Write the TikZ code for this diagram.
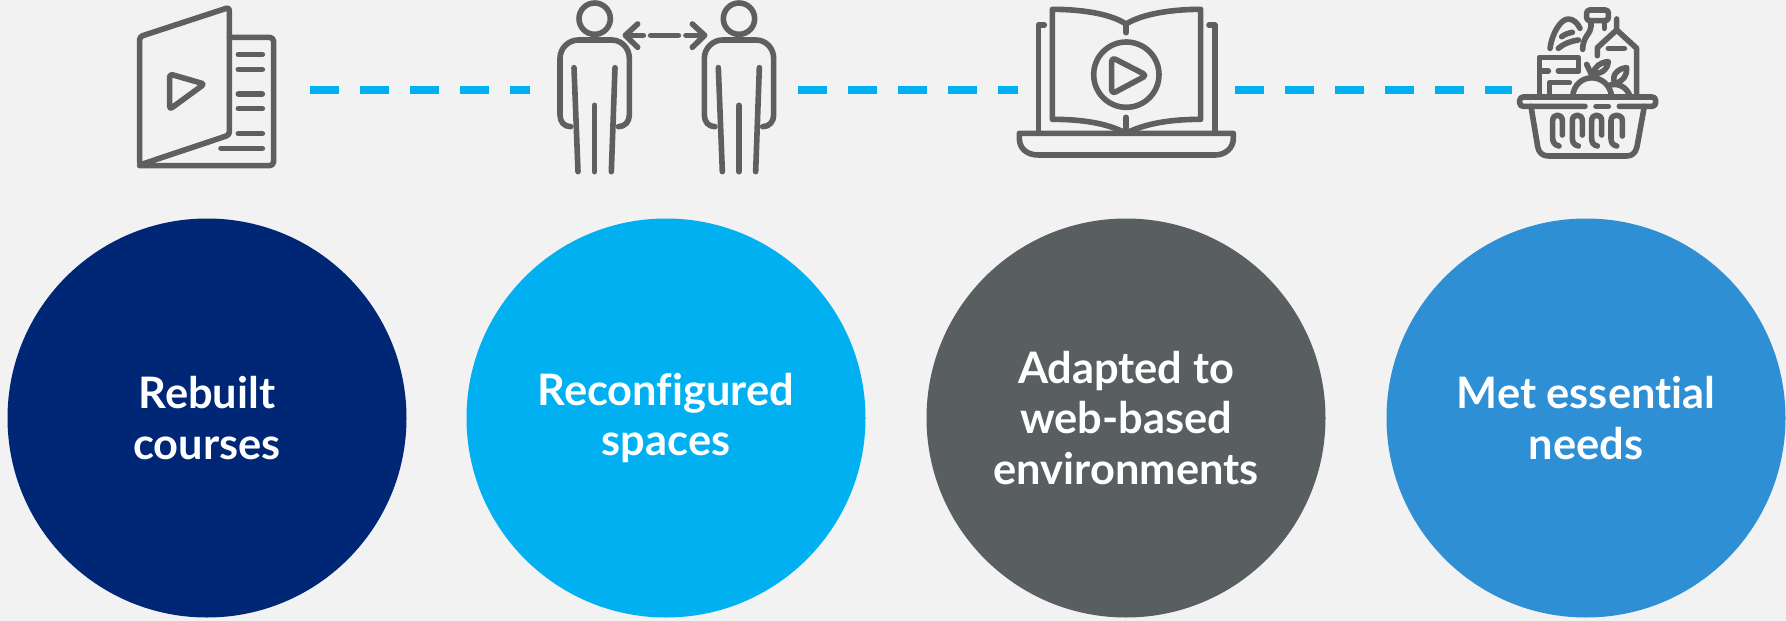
\documentclass[tikz,border=0pt]{standalone}
\usepackage{fontspec}
\setmainfont{Lato}[BoldFont=* Bold,Ligatures=CommonOff]
\definecolor{bgc}{HTML}{F2F2F2}
\definecolor{ink}{HTML}{5F5F5F}
\definecolor{cnavy}{HTML}{002776}
\definecolor{csky}{HTML}{00B0F0}
\definecolor{cgrey}{HTML}{595E60}
\definecolor{cblue}{HTML}{2E8FD4}
\tikzset{
  ic/.style={draw=ink,line width=5.6pt,line cap=round,line join=round},
  dashline/.style={draw=csky,line width=7.6pt,dash pattern=on 29pt off 21pt},
  disc/.style={circle,minimum size=399pt,inner sep=0pt,text=white,align=center,font=\fontsize{43.4}{50.5}\selectfont\bfseries}
}
\begin{document}
\begin{tikzpicture}[x=1pt,y=-1pt]
\path[use as bounding box,fill=bgc] (0,0) rectangle (1786,621);
\node[disc,fill=cnavy] (d1) at (207,418) {Rebuilt\\courses};
\node[disc,fill=csky] (d2) at (666,418) {Reconfigured\\spaces};
\node[disc,fill=cgrey] (d3) at (1126,418) {Adapted to\\web-based\\environments};
\node[disc,fill=cblue] (d4) at (1586,418) {Met essential\\needs};
\coordinate (a1) at (310,90); \coordinate (a2) at (530,90);
\coordinate (b1) at (798,90); \coordinate (b2) at (1018,90);
\coordinate (c1) at (1235,90); \coordinate (c2) at (1512,90);
\draw[dashline] (a1)--(a2); \draw[dashline] (b1)--(b2); \draw[dashline] (c1)--(c2);
% icon 1
\begin{scope}[shift={(125,0)},scale=1/3]
\draw[ic,rounded corners=3pt] (44,110)--(313,22)--(313,405)--(44,495)--cycle;
\draw[ic,rounded corners=4pt] (313,112)--(446,112)--(446,497)--(44,497);
\foreach \y in {164,208,282,326,401} \draw[ic] (340,\y)--(412,\y);
\draw[ic] (288,445)--(412,445);
\draw[ic,rounded corners=3pt] (134,222)--(238,252)--(134,328)--cycle;
\end{scope}
% icon 2
\begin{scope}[shift={(550,0)},scale=1/3]
\foreach \d in {0,433}{
\draw[ic] (134+\d,56) circle (47);
\draw[ic] (62+\d,380) .. controls (42+\d,380) and (30+\d,365) .. (30+\d,345) -- (30+\d,175) .. controls (30+\d,145) and (55+\d,120) .. (85+\d,120) -- (185+\d,120) .. controls (215+\d,120) and (238+\d,145) .. (238+\d,175) -- (238+\d,345) .. controls (238+\d,365) and (225+\d,380) .. (205+\d,380);
\draw[ic] (72+\d,203)--(84+\d,515);
\draw[ic] (134+\d,316)--(134+\d,515);
\draw[ic] (195+\d,203)--(184+\d,515);
}
\draw[ic] (280,106)--(228,106);
\draw[ic] (263,72)--(226,106)--(263,142);
\draw[ic] (302,106)--(385,106);
\draw[ic] (408,106)--(462,106);
\draw[ic] (427,72)--(464,106)--(427,142);
\end{scope}
% icon 3
\begin{scope}[shift={(1010,0)},scale=1/3]
\draw[ic] (28,400)--(670,400)--(670,415) .. controls (670,445) and (645,465) .. (615,465)--(85,465) .. controls (50,465) and (28,445) .. (28,415)--cycle;
\draw[ic] (103,75)--(85,75)--(85,400);
\draw[ic] (597,75)--(615,75)--(615,400);
\draw[ic] (348,72) .. controls (300,40) and (210,28) .. (127,28)--(127,358) .. controls (210,358) and (290,368) .. (348,400) .. controls (410,368) and (490,358) .. (572,358)--(572,28) .. controls (490,28) and (400,40) .. (348,72);
\draw[ic] (348,72)--(348,98);
\draw[ic] (348,352)--(348,398);
\draw[ic] (349,224) circle (98);
\draw[ic,rounded corners=4pt] (305,172)--(410,226)--(305,282)--cycle;
\end{scope}
% icon 4
\begin{scope}[shift={(1510,0)},scale=1/3]
\draw[ic,rounded corners=3.5pt] (225,319)--(29,319)--(29,291)--(437,291)--(437,319)--(328,319);
\draw[ic] (258,319)--(295,319);
\draw[ic] (63,319)--(83,440) .. controls (86,458) and (98,468) .. (115,468)--(350,468) .. controls (367,468) and (377,458) .. (381,440)--(403,319);
\draw[ic] (147,438) .. controls (135,435) and (128,428) .. (128,415)--(128,362) .. controls (128,340) and (157,340) .. (157,362)--(157,405);
\draw[ic] (205,438) .. controls (193,435) and (187,428) .. (187,415)--(187,362) .. controls (187,340) and (217,340) .. (217,362)--(217,405);
\draw[ic] (262,438) .. controls (250,435) and (245,428) .. (245,415)--(245,362) .. controls (245,340) and (275,340) .. (275,362)--(275,405);
\draw[ic] (320,438) .. controls (308,435) and (303,428) .. (303,415)--(303,362) .. controls (303,340) and (337,340) .. (337,362)--(337,408);
\draw[ic] (88,289)--(88,172)--(205,172)--(205,213);
\draw[ic] (90,213)--(115,213);
\draw[ic] (145,213)--(205,213);
\draw[ic] (118,289)--(118,248)--(178,248);
\draw[ic] (188,289) .. controls (195,215) and (295,215) .. (305,289);
\draw[ic] (300,255) .. controls (330,248) and (352,265) .. (360,289);
\draw[ic] (230,193)--(245,225);
\draw[ic] (250,222) .. controls (252,200) and (272,186) .. (295,185) .. controls (294,205) and (280,220) .. (250,222);
\draw[ic] (315,250) .. controls (302,225) and (325,205) .. (350,203) .. controls (352,225) and (340,245) .. (315,250);
\draw[ic] (120,145) .. controls (125,105) and (150,57) .. (175,57) .. controls (190,57) and (203,70) .. (210,85);
\draw[ic] (145,145) .. controls (160,132) and (180,124) .. (205,120);
\draw[ic] (155,110) .. controls (165,103) and (175,99) .. (187,97);
\draw[ic,rounded corners=3pt] (230,62)--(230,30)--(295,30)--(295,62)--cycle;
\draw[ic] (243,62)--(243,80) .. controls (243,100) and (218,110) .. (218,148);
\draw[ic] (283,62)--(283,85);
\draw[ic] (320,57)--(320,90)--(262,143)--(262,167);
\draw[ic] (320,90)--(380,145)--(380,289);
\draw[ic] (295,145)--(343,145);
\end{scope}
\end{tikzpicture}
\end{document}
